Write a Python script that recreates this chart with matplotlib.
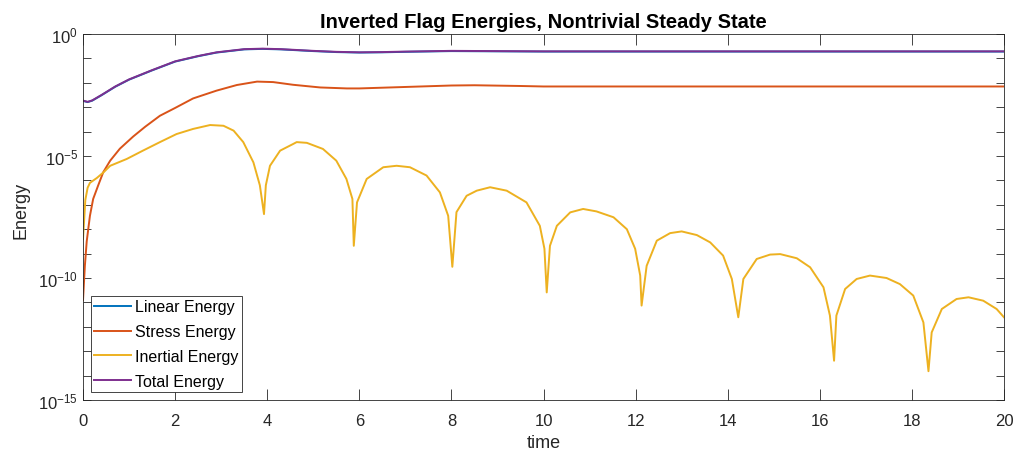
import numpy as np
import matplotlib
matplotlib.use('Agg')
import matplotlib.pyplot as plt
from matplotlib.ticker import NullFormatter

plt.rcParams['font.family'] = ['Liberation Sans', 'DejaVu Sans']
plt.rcParams['mathtext.fontset'] = 'custom'
plt.rcParams['mathtext.rm'] = 'Liberation Sans'
plt.rcParams['mathtext.it'] = 'Liberation Sans:italic'
plt.rcParams['mathtext.bf'] = 'Liberation Sans:bold'

# values are stored as log10(energy)
total_t = [0, 0.1, 0.2, 0.4, 0.7, 1.0, 1.5, 2.0, 2.5, 2.9, 3.5, 3.9, 4.3, 5.0, 5.5, 6.0,
           6.5, 7.0, 8.0, 9.0, 10.0, 12.0, 14.0, 16.0, 18.0, 20.0]
total_log = [-2.73, -2.78, -2.72, -2.5, -2.15, -1.86, -1.48, -1.12, -0.9, -0.75, -0.62, -0.6,
             -0.62, -0.69, -0.73, -0.75, -0.74, -0.72, -0.69, -0.7, -0.71, -0.71, -0.71,
             -0.71, -0.71, -0.71]
linear_log = [-2.74, -2.79, -2.73, -2.51, -2.16, -1.87, -1.49, -1.13, -0.91, -0.76, -0.63, -0.61,
              -0.63, -0.7, -0.74, -0.76, -0.75, -0.73, -0.7, -0.71, -0.72, -0.72, -0.72,
              -0.72, -0.72, -0.72]

stress_t = [0, 0.04, 0.08, 0.15, 0.22, 0.33, 0.44, 0.59, 0.8, 1.09, 1.35, 1.67, 2.0, 2.39,
            2.9, 3.34, 3.78, 4.13, 4.56, 5.15, 5.73, 6.0, 7.0, 8.0, 8.5, 9.5, 10.0, 12.0,
            14.0, 16.0, 18.0, 20.0]
stress_log = [-10.9, -9.5, -8.5, -7.45, -6.76, -6.2, -5.66, -5.19, -4.7, -4.2, -3.8, -3.35,
              -3.03, -2.64, -2.32, -2.09, -1.95, -1.97, -2.08, -2.19, -2.23, -2.23, -2.17,
              -2.11, -2.1, -2.13, -2.15, -2.15, -2.15, -2.15, -2.15, -2.15]

inertial_t = [0, 0.05, 0.1, 0.15, 0.3, 0.45, 0.59, 0.95, 1.3, 1.67, 2.03, 2.39, 2.76, 3.05,
              3.27, 3.48, 3.7, 3.84, 3.93,
              3.97, 4.06, 4.28, 4.57, 4.64, 4.86, 5.21, 5.5, 5.72, 5.85, 5.88,
              5.95, 6.16, 6.52, 6.81, 7.1, 7.46, 7.75, 7.93, 8.02,
              8.11, 8.33, 8.55, 8.84, 9.2, 9.63, 9.92, 10.02, 10.07,
              10.14, 10.29, 10.58, 10.86, 11.15, 11.52, 11.81, 11.99, 12.1, 12.13,
              12.24, 12.46, 12.75, 13.0, 13.33, 13.62, 13.9, 14.09, 14.23,
              14.34, 14.63, 14.92, 15.14, 15.5, 15.79, 16.08, 16.22, 16.31,
              16.36, 16.55, 16.8, 17.09, 17.45, 17.74, 18.03, 18.25, 18.36,
              18.43, 18.65, 18.97, 19.23, 19.55, 19.84, 20.0]
inertial_log = [-8.4, -6.8, -6.3, -6.1, -5.9, -5.66, -5.4, -5.12, -4.78, -4.43, -4.1, -3.89,
                -3.73, -3.76, -3.96, -4.43, -5.26, -6.2, -7.38,
                -6.2, -5.4, -4.78, -4.5, -4.43, -4.46, -4.71, -5.19, -5.94, -6.76, -8.68,
                -6.9, -5.94, -5.46, -5.4, -5.46, -5.8, -6.49, -7.45, -9.54,
                -7.3, -6.63, -6.42, -6.28, -6.42, -6.9, -7.86, -8.8, -10.59,
                -8.68, -7.86, -7.31, -7.17, -7.27, -7.51, -8.0, -8.8, -9.9, -11.13,
                -9.5, -8.47, -8.16, -8.09, -8.24, -8.54, -9.08, -10.04, -11.61,
                -10.04, -9.22, -9.04, -9.02, -9.19, -9.56, -10.38, -11.54, -13.39,
                -11.54, -10.45, -10.04, -9.9, -10.0, -10.25, -10.72, -11.82, -13.82,
                -12.23, -11.27, -10.86, -10.79, -10.93, -11.27, -11.61]

labels = ['Linear Energy', 'Stress Energy', 'Inertial Energy', 'Total Energy']
colors = ['#0072BD', '#D95319', '#EDB120', '#7E2F8E']

fig = plt.figure(figsize=(10.2, 4.56), dpi=100)
ax = fig.add_axes([0.0814, 0.1206, 0.9029, 0.8026])

ax.semilogy(total_t, 10.0 ** np.array(linear_log), color=colors[0], lw=1.4, label=labels[0])
ax.semilogy(stress_t, 10.0 ** np.array(stress_log), color=colors[1], lw=1.4, label=labels[1])
ax.semilogy(inertial_t, 10.0 ** np.array(inertial_log), color=colors[2], lw=1.4, label=labels[2])
ax.semilogy(total_t, 10.0 ** np.array(total_log), color=colors[3], lw=1.4, label=labels[3])

ax.set_xlim(0, 20)
ax.set_ylim(1e-15, 1e0)
ax.set_xticks(range(0, 21, 2))
ax.set_yticks([1e-15, 1e-10, 1e-5, 1e0])
ax.set_yticklabels(['$10^{-15}$', '$10^{-10}$', '$10^{-5}$', '$10^{0}$'])
ax.set_yticks([10.0 ** k for k in range(-15, 1)], minor=True)
ax.yaxis.set_minor_formatter(NullFormatter())

grey = '#262626'
for s in ax.spines.values():
    s.set_color(grey)
    s.set_linewidth(0.6)
ax.tick_params(which='both', direction='in', top=True, right=True, colors=grey,
               labelsize=12, width=0.6)
ax.tick_params(axis='y', which='both', length=6)
ax.tick_params(axis='x', length=8, pad=9)

ax.set_xlabel('time', fontsize=13, color=grey, labelpad=5)
ax.set_ylabel('Energy', fontsize=13, color=grey)
ax.yaxis.set_label_coords(-0.058, 0.52)
ax.set_title('Inverted Flag Energies, Nontrivial Steady State', fontsize=14.5,
             fontweight='bold', pad=5)

leg = ax.legend(loc='lower left', bbox_to_anchor=(0.005, 0.012), fontsize=11.5,
                frameon=True, fancybox=False, framealpha=1, edgecolor=grey,
                handlelength=2.3, handletextpad=0.25, labelspacing=0.62,
                borderpad=0.22, borderaxespad=0.2)
leg.get_frame().set_linewidth(0.6)

fig.savefig('out.png', dpi=100)
